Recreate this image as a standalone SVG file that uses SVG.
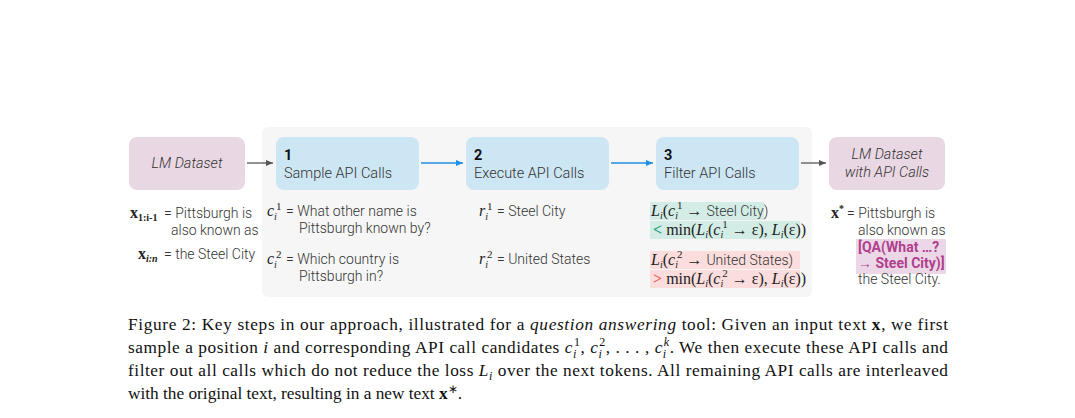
<svg xmlns="http://www.w3.org/2000/svg" width="1075" height="418" viewBox="0 0 1075 418">
<style>
.s{font-family:Roboto,"Liberation Sans",sans-serif;font-size:14px;fill:#333;font-weight:300}
.m{font-family:"Liberation Serif",serif;font-size:16px;fill:#222}
.bt{font-family:Roboto,"Liberation Sans",sans-serif;font-size:14.5px;fill:#333;font-weight:300}
.cap{font-family:"Liberation Serif",serif;font-size:17.3px;fill:#111}
</style>
<defs>
<marker id="ag" markerWidth="8" markerHeight="8" refX="7" refY="4" orient="auto" markerUnits="userSpaceOnUse"><path d="M0,1 L7,4 L0,7z" fill="#555"/></marker>
<marker id="ab" markerWidth="8" markerHeight="8" refX="7" refY="4" orient="auto" markerUnits="userSpaceOnUse"><path d="M0,1 L7,4 L0,7z" fill="#1f8fe0"/></marker>
</defs>
<rect width="1075" height="418" fill="#fff"/>
<rect x="262" y="127" width="550" height="170" rx="6" fill="#f6f6f6"/>
<g id="lm"><rect x="129" y="137" width="116" height="53" rx="8" fill="#e9d8e4"/><text class="bt" x="187" y="168" text-anchor="middle" font-style="italic">LM Dataset</text></g>
<g id="n1"><rect x="276" y="137" width="143" height="53" rx="8" fill="#cde6f4"/><text class="bt" x="284" y="160" style="font-weight:700;fill:#111">1</text><text class="bt" x="284" y="178">Sample API Calls</text></g>
<g id="n2"><rect x="466" y="137" width="143" height="53" rx="8" fill="#cde6f4"/><text class="bt" x="474" y="160" style="font-weight:700;fill:#111">2</text><text class="bt" x="474" y="178">Execute API Calls</text></g>
<g id="n3"><rect x="656" y="137" width="143" height="53" rx="8" fill="#cde6f4"/><text class="bt" x="664" y="160" style="font-weight:700;fill:#111">3</text><text class="bt" x="664" y="178">Filter API Calls</text></g>
<g id="out"><rect x="829" y="137" width="116" height="53" rx="8" fill="#e9d8e4"/><text class="bt" x="887" y="159" text-anchor="middle" font-style="italic">LM Dataset</text><text class="bt" x="887" y="177" text-anchor="middle" font-style="italic">with API Calls</text></g>
<g id="connectors" stroke-width="1.3" fill="none">
<line x1="247" y1="163" x2="273" y2="163" stroke="#555" marker-end="url(#ag)"/>
<line x1="421" y1="163" x2="463" y2="163" stroke="#1f8fe0" marker-end="url(#ab)"/>
<line x1="611" y1="163" x2="653" y2="163" stroke="#1f8fe0" marker-end="url(#ab)"/>
<line x1="801" y1="163" x2="826" y2="163" stroke="#555" marker-end="url(#ag)"/>
</g>
<g id="texts">
<text class="m" x="130" y="218" font-weight="bold">x<tspan font-size="10" dy="3">1:i-1</tspan></text>
<text class="s" x="164" y="218">= Pittsburgh is</text>
<text class="s" x="171" y="235">also known as</text>
<text class="m" x="138" y="259" font-weight="bold">x<tspan font-size="10" dy="3" font-style="italic">i:n</tspan></text>
<text class="s" x="164" y="259">= the Steel City</text>
<text class="m" x="267" y="216" font-style="italic">c<tspan font-size="10" dy="4">i</tspan><tspan font-size="11" dy="-10" font-style="normal" dx="-1">1</tspan></text>
<text class="s" x="286" y="216">= What other name is</text>
<text class="s" x="299" y="233">Pittsburgh known by?</text>
<text class="m" x="267" y="264" font-style="italic">c<tspan font-size="10" dy="4">i</tspan><tspan font-size="11" dy="-10" font-style="normal" dx="-1">2</tspan></text>
<text class="s" x="286" y="264">= Which country is</text>
<text class="s" x="299" y="281">Pittsburgh in?</text>
<text class="m" x="479" y="216" font-style="italic">r<tspan font-size="10" dy="4">i</tspan><tspan font-size="11" dy="-10" font-style="normal" dx="-1">1</tspan></text>
<text class="s" x="497" y="216">= Steel City</text>
<text class="m" x="479" y="264" font-style="italic">r<tspan font-size="10" dy="4">i</tspan><tspan font-size="11" dy="-10" font-style="normal" dx="-1">2</tspan></text>
<text class="s" x="497" y="264">= United States</text>
<rect x="650" y="202" width="114" height="18" fill="#d3ede6"/>
<rect x="650" y="221" width="150" height="18" fill="#d3ede6"/>
<rect x="650" y="251" width="150" height="18" fill="#fbdddd"/>
<rect x="650" y="270" width="150" height="18" fill="#fbdddd"/>
<text class="m" x="651" y="216"><tspan font-style="italic">L<tspan font-size="10" dy="3">i</tspan></tspan><tspan dy="-3">(</tspan><tspan font-style="italic">c<tspan font-size="10" dy="3">i</tspan></tspan><tspan font-size="11" dy="-10" dx="-1">1</tspan><tspan dy="7"> → </tspan><tspan class="s">Steel City)</tspan></text>
<text class="m" x="653" y="235"><tspan fill="#1a9c78" font-weight="bold">&lt;</tspan> min(<tspan font-style="italic">L<tspan font-size="10" dy="3">i</tspan></tspan><tspan dy="-3">(</tspan><tspan font-style="italic">c<tspan font-size="10" dy="3">i</tspan></tspan><tspan font-size="11" dy="-10" dx="-1">1</tspan><tspan dy="7"> → ε), </tspan><tspan font-style="italic">L<tspan font-size="10" dy="3">i</tspan></tspan><tspan dy="-3">(ε))</tspan></text>
<text class="m" x="651" y="265"><tspan font-style="italic">L<tspan font-size="10" dy="3">i</tspan></tspan><tspan dy="-3">(</tspan><tspan font-style="italic">c<tspan font-size="10" dy="3">i</tspan></tspan><tspan font-size="11" dy="-10" dx="-1">2</tspan><tspan dy="7"> → </tspan><tspan class="s">United States)</tspan></text>
<text class="m" x="653" y="284"><tspan fill="#f0605a" font-weight="bold">&gt;</tspan> min(<tspan font-style="italic">L<tspan font-size="10" dy="3">i</tspan></tspan><tspan dy="-3">(</tspan><tspan font-style="italic">c<tspan font-size="10" dy="3">i</tspan></tspan><tspan font-size="11" dy="-10" dx="-1">2</tspan><tspan dy="7"> → ε), </tspan><tspan font-style="italic">L<tspan font-size="10" dy="3">i</tspan></tspan><tspan dy="-3">(ε))</tspan></text>
<text class="m" x="831" y="218" font-weight="bold">x<tspan font-size="10" dy="-6">*</tspan></text>
<text class="s" x="847" y="218">= Pittsburgh is</text>
<text class="s" x="858" y="235">also known as</text>
<rect x="856" y="239" width="90" height="35" fill="#ecd7e6"/>
<text class="s" x="858" y="252" style="fill:#b0408e;font-weight:700">[QA(What …?</text>
<text class="s" x="858" y="268" style="fill:#b0408e;font-weight:700">→ Steel City)]</text>
<text class="s" x="858" y="284">the Steel City.</text>
</g>
<text class="cap" x="128" y="330" textLength="820" lengthAdjust="spacing">Figure 2: Key steps in our approach, illustrated for a <tspan font-style="italic">question answering</tspan> tool: Given an input text <tspan font-weight="bold">x</tspan>, we first</text>
<text class="cap" x="128" y="353" textLength="820" lengthAdjust="spacing">sample a position <tspan font-style="italic">i</tspan> and corresponding API call candidates <tspan font-style="italic">c</tspan><tspan font-size="12" dy="5" font-style="italic">i</tspan><tspan font-size="12" dy="-12" dx="-3">1</tspan><tspan dy="7">, </tspan><tspan font-style="italic">c</tspan><tspan font-size="12" dy="5" font-style="italic">i</tspan><tspan font-size="12" dy="-12" dx="-3">2</tspan><tspan dy="7">, . . . , </tspan><tspan font-style="italic">c</tspan><tspan font-size="12" dy="5" font-style="italic">i</tspan><tspan font-size="12" dy="-12" dx="-3" font-style="italic">k</tspan><tspan dy="7">. We then execute these API calls and</tspan></text>
<text class="cap" x="128" y="376" textLength="820" lengthAdjust="spacing">filter out all calls which do not reduce the loss <tspan font-style="italic">L</tspan><tspan font-size="12" dy="4" font-style="italic">i</tspan><tspan dy="-4"> over the next tokens. All remaining API calls are interleaved</tspan></text>
<text class="cap" x="128" y="399">with the original text, resulting in a new text <tspan font-weight="bold">x</tspan><tspan font-size="12" dy="-6">∗</tspan><tspan dy="6">.</tspan></text>
</svg>
